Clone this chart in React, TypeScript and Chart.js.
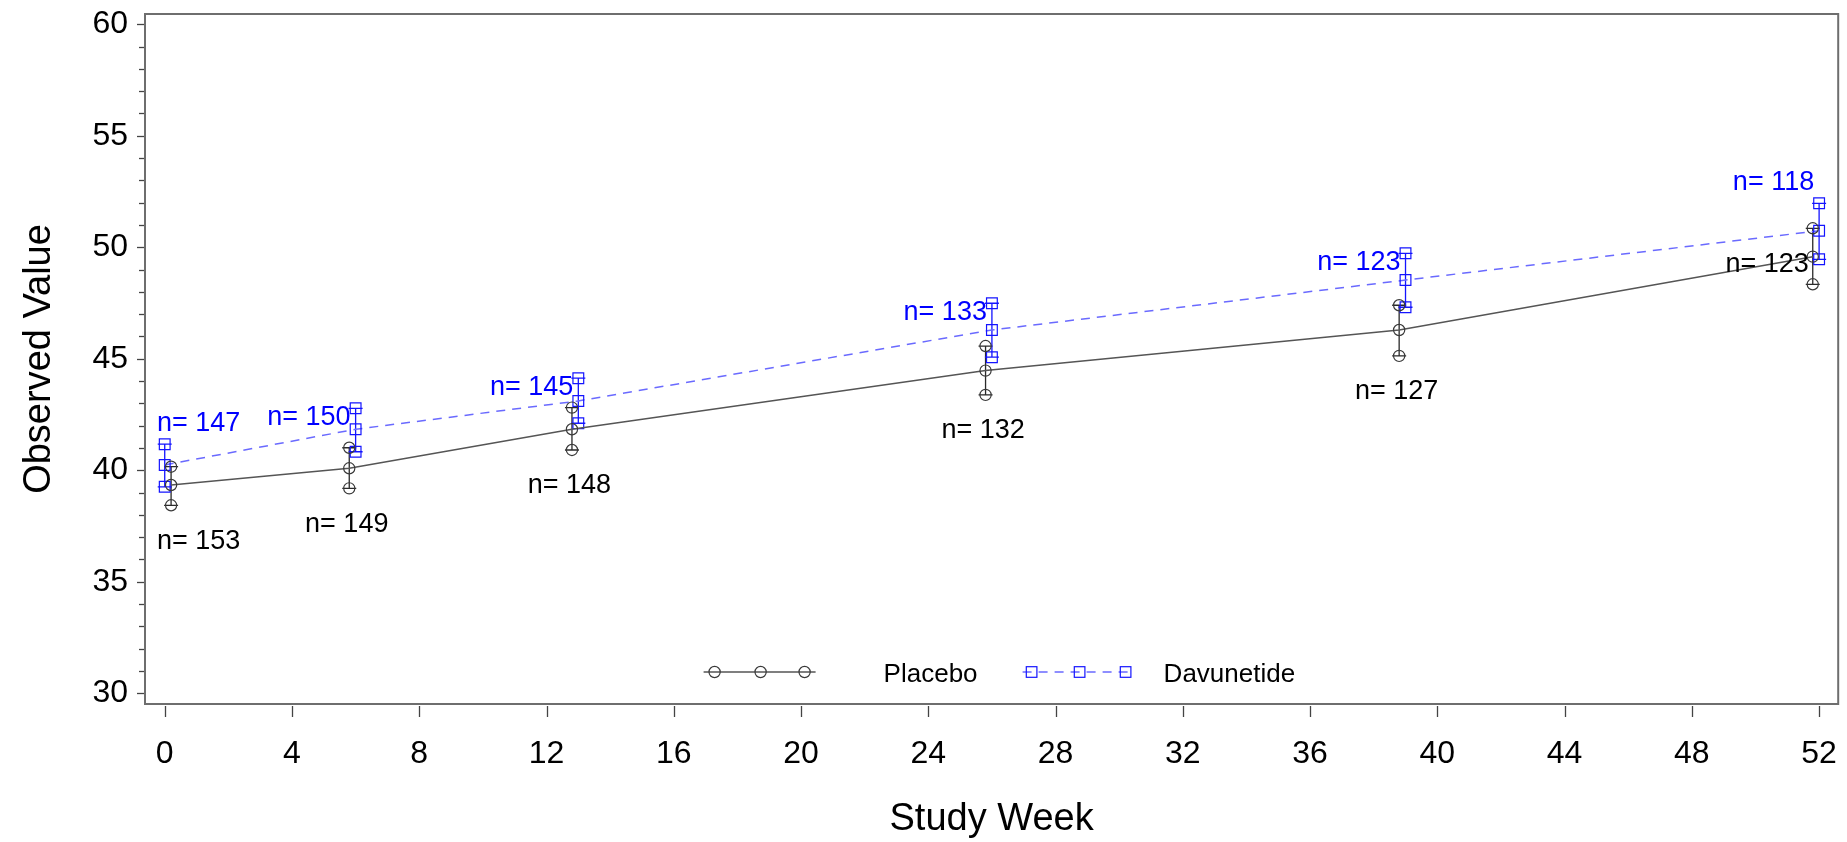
import React, { useEffect, useRef } from 'react';
import { Chart, registerables } from 'chart.js';

Chart.register(...registerables);

// ---------- data ----------
const placeboWeek = [0.2, 5.8, 12.8, 25.8, 38.8, 51.8];
const davWeek = [0, 6, 13, 26, 39, 52];

const placeboMean = [39.34, 40.09, 41.84, 44.47, 46.29, 49.58];
const placeboUpper = [40.16, 41.01, 42.81, 45.57, 47.4, 50.85];
const placeboLower = [38.43, 39.19, 40.91, 43.38, 45.13, 48.34];

const davMean = [40.24, 41.84, 43.11, 46.29, 48.53, 50.74];
const davUpper = [41.17, 42.78, 44.13, 47.49, 49.73, 51.97];
const davLower = [39.26, 40.83, 42.11, 45.07, 47.31, 49.46];

const placeboN = [153, 149, 148, 132, 127, 123];
const davN = [147, 150, 145, 133, 123, 118];

// label placement hints (style, not data)
const placeboLabelPos = ['belowLower', 'belowLower', 'belowLower', 'belowLower', 'belowLower', 'leftMean'];
const davLabelPos = ['aboveUpper', 'leftUpper', 'leftUpper', 'leftUpper', 'leftUpper', 'aboveUpper'];

const xTicks = [0, 4, 8, 12, 16, 20, 24, 28, 32, 36, 40, 44, 48, 52];
const yTicks = [30, 35, 40, 45, 50, 55, 60];

const seriesNames = ['Placebo', 'Davunetide'];
const xTitle = 'Study Week';
const yTitle = 'Observed Value';

const FONT = '"Liberation Sans", Arial, Helvetica, sans-serif';
const BLACK_LINE = '#555555';
const BLACK_MARK = '#3a3a3a';
const BLUE_LINE = '#6a6aff';
const BLUE_MARK = '#1414ff';

export default function App() {
  const ref = useRef<HTMLCanvasElement>(null);

  useEffect(() => {
    document.body.style.margin = '0';
    const canvas = ref.current!;
    const pts = (xs: number[], ys: number[]) => xs.map((x, i) => ({ x, y: ys[i] }));

    const circle = {
      pointStyle: 'circle',
      pointRadius: 5.6,
      pointHoverRadius: 5.6,
      pointBorderColor: BLACK_MARK,
      pointBackgroundColor: 'rgba(0,0,0,0)',
      pointBorderWidth: 1.2,
    };
    const square = {
      pointStyle: 'rect',
      pointRadius: 7.6,
      pointHoverRadius: 7.6,
      pointBorderColor: BLUE_MARK,
      pointBackgroundColor: 'rgba(0,0,0,0)',
      pointBorderWidth: 1.2,
    };

    const drawCircle = (ctx: CanvasRenderingContext2D, x: number, y: number) => {
      ctx.beginPath();
      ctx.arc(x, y, 5.6, 0, Math.PI * 2);
      ctx.stroke();
    };
    const drawSquare = (ctx: CanvasRenderingContext2D, x: number, y: number) => {
      ctx.strokeRect(x - 5.3, y - 5.3, 10.6, 10.6);
    };

    const overlay = {
      id: 'overlay',
      beforeDatasetsDraw(chart: any) {
        const { ctx } = chart;
        const xs = chart.scales.x;
        const ys = chart.scales.y;
        ctx.save();
        const bars = [
          { w: placeboWeek, lo: placeboLower, hi: placeboUpper, color: '#2a2a2a' },
          { w: davWeek, lo: davLower, hi: davUpper, color: BLUE_MARK },
        ];
        for (const b of bars) {
          ctx.strokeStyle = b.color;
          ctx.lineWidth = 1.3;
          b.w.forEach((wk, i) => {
            const px = xs.getPixelForValue(wk);
            const yh = ys.getPixelForValue(b.hi[i]);
            const yl = ys.getPixelForValue(b.lo[i]);
            ctx.beginPath();
            ctx.moveTo(px, yh);
            ctx.lineTo(px, yl);
            ctx.moveTo(px - 7, yh);
            ctx.lineTo(px + 7, yh);
            ctx.moveTo(px - 7, yl);
            ctx.lineTo(px + 7, yl);
            ctx.stroke();
          });
        }
        ctx.restore();
      },
      afterDraw(chart: any) {
        const { ctx, chartArea: a } = chart;
        const xs = chart.scales.x;
        const ys = chart.scales.y;
        ctx.save();

        // frame
        ctx.strokeStyle = '#6e6e6e';
        ctx.lineWidth = 2;
        ctx.strokeRect(a.left, a.top, a.right - a.left, a.bottom - a.top);

        // y ticks (major + minor)
        ctx.strokeStyle = '#444';
        ctx.lineWidth = 1.3;
        for (let v = yTicks[0]; v <= yTicks[yTicks.length - 1]; v += 1) {
          const py = Math.round(ys.getPixelForValue(v)) + 0.5;
          const len = yTicks.includes(v) ? 7 : 5;
          ctx.beginPath();
          ctx.moveTo(a.left - len - 1, py);
          ctx.lineTo(a.left - 1, py);
          ctx.stroke();
        }
        // x ticks
        for (const v of xTicks) {
          const px = Math.round(xs.getPixelForValue(v)) + 0.5;
          ctx.beginPath();
          ctx.moveTo(px, a.bottom + 2);
          ctx.lineTo(px, a.bottom + 13);
          ctx.stroke();
        }

        // n= labels
        ctx.font = `27px ${FONT}`;
        ctx.textBaseline = 'middle';
        const placeLabel = (
          text: string,
          mode: string,
          px: number,
          yUp: number,
          yMean: number,
          yLow: number,
          color: string
        ) => {
          ctx.fillStyle = color;
          const w = ctx.measureText(text).width;
          let left = px;
          let cy = yMean;
          if (mode === 'aboveUpper') {
            left = px - w / 2;
            cy = yUp - 21;
          } else if (mode === 'leftUpper') {
            left = px - 5 - w;
            cy = yUp + 9;
          } else if (mode === 'leftMean') {
            left = px - 4 - w;
            cy = yMean + 8;
          } else if (mode === 'belowLower') {
            left = px - 2.5 - w / 2;
            cy = yLow + 36;
          }
          left = Math.max(a.left + 12, Math.min(a.right - 24 - w, left));
          ctx.textAlign = 'left';
          ctx.fillText(text, left, cy);
        };
        placeboWeek.forEach((wk, i) => {
          placeLabel(
            `n= ${placeboN[i]}`,
            placeboLabelPos[i],
            xs.getPixelForValue(wk),
            ys.getPixelForValue(placeboUpper[i]),
            ys.getPixelForValue(placeboMean[i]),
            ys.getPixelForValue(placeboLower[i]),
            '#000000'
          );
        });
        davWeek.forEach((wk, i) => {
          placeLabel(
            `n= ${davN[i]}`,
            davLabelPos[i],
            xs.getPixelForValue(wk),
            ys.getPixelForValue(davUpper[i]),
            ys.getPixelForValue(davMean[i]),
            ys.getPixelForValue(davLower[i]),
            '#0000ff'
          );
        });

        // legend
        const cx = (a.left + a.right) / 2;
        const ly = a.bottom - 32;
        ctx.lineWidth = 1.4;
        ctx.strokeStyle = BLACK_LINE;
        ctx.setLineDash([]);
        ctx.beginPath();
        ctx.moveTo(cx - 288, ly);
        ctx.lineTo(cx - 176, ly);
        ctx.stroke();
        ctx.strokeStyle = BLACK_MARK;
        ctx.lineWidth = 1.2;
        [cx - 277, cx - 231, cx - 187].forEach((x) => drawCircle(ctx, x, ly));
        ctx.fillStyle = '#000';
        ctx.font = `26px ${FONT}`;
        ctx.textBaseline = 'middle';
        ctx.textAlign = 'left';
        ctx.fillText(seriesNames[0], cx - 108, ly + 3);
        ctx.strokeStyle = BLUE_LINE;
        ctx.lineWidth = 1.4;
        ctx.setLineDash([9, 7]);
        ctx.beginPath();
        ctx.moveTo(cx + 31, ly);
        ctx.lineTo(cx + 138, ly);
        ctx.stroke();
        ctx.setLineDash([]);
        ctx.strokeStyle = BLUE_MARK;
        ctx.lineWidth = 1.2;
        [cx + 40, cx + 88, cx + 134].forEach((x) => drawSquare(ctx, x, ly));
        ctx.fillStyle = '#000';
        ctx.fillText(seriesNames[1], cx + 172, ly + 3);

        ctx.restore();
      },
    };

    const chart = new Chart(canvas, {
      type: 'line',
      data: {
        datasets: [
          {
            label: seriesNames[0],
            data: pts(placeboWeek, placeboMean),
            borderColor: BLACK_LINE,
            borderWidth: 1.5,
            tension: 0,
            ...circle,
          },
          { label: 'pu', data: pts(placeboWeek, placeboUpper), showLine: false, ...circle },
          { label: 'pl', data: pts(placeboWeek, placeboLower), showLine: false, ...circle },
          {
            label: seriesNames[1],
            data: pts(davWeek, davMean),
            borderColor: BLUE_LINE,
            borderWidth: 1.5,
            borderDash: [9, 7],
            tension: 0,
            ...square,
          },
          { label: 'du', data: pts(davWeek, davUpper), showLine: false, ...square },
          { label: 'dl', data: pts(davWeek, davLower), showLine: false, ...square },
        ] as any,
      },
      options: {
        animation: false,
        responsive: false,
        maintainAspectRatio: false,
        devicePixelRatio: 1,
        layout: { padding: { left: 0, right: 7, top: 14, bottom: 0 } },
        plugins: {
          legend: { display: false },
          tooltip: { enabled: false },
        },
        scales: {
          x: {
            type: 'linear',
            min: -0.62,
            max: 52.6,
            afterBuildTicks: (s: any) => {
              s.ticks = xTicks.map((v) => ({ value: v }));
            },
            afterFit: (s: any) => {
              s.height = 138;
              s.paddingLeft = 0;
              s.paddingRight = 0;
              s.paddingTop = 0;
              s.paddingBottom = 0;
            },
            grid: { display: false, drawTicks: false },
            border: { display: false },
            ticks: {
              font: { family: FONT, size: 32 },
              color: '#000',
              padding: 31,
              maxRotation: 0,
              autoSkip: false,
            },
            title: {
              display: true,
              text: xTitle,
              font: { family: FONT, size: 38 },
              color: '#000',
              padding: { top: 0, bottom: 0 },
            },
          },
          y: {
            type: 'linear',
            min: 29.52,
            max: 60.46,
            afterBuildTicks: (s: any) => {
              s.ticks = yTicks.map((v) => ({ value: v }));
            },
            afterFit: (s: any) => {
              s.width = 145;
              s.paddingLeft = 0;
              s.paddingRight = 0;
              s.paddingTop = 0;
              s.paddingBottom = 0;
            },
            grid: { display: false, drawTicks: false },
            border: { display: false },
            ticks: {
              font: { family: FONT, size: 32 },
              color: '#000',
              padding: 17,
            },
            title: {
              display: true,
              text: yTitle,
              font: { family: FONT, size: 38 },
              color: '#000',
              padding: { top: 17, bottom: 0 },
            },
          },
        },
      } as any,
      plugins: [overlay],
    });

    return () => chart.destroy();
  }, []);

  return (
    <div style={{ width: 1847, height: 842, position: 'relative', background: '#fff' }}>
      <canvas ref={ref} width={1847} height={842} style={{ display: 'block' }} />
    </div>
  );
}
